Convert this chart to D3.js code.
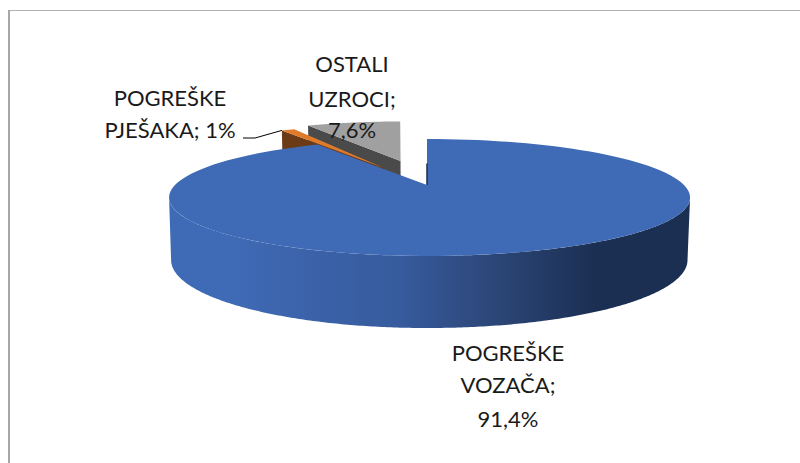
<!DOCTYPE html>
<html>
<head>
<meta charset="utf-8">
<script src="https://cdn.jsdelivr.net/npm/d3@7"></script>
<style>
  html, body { margin: 0; padding: 0; background: #fff; }
  svg { display: block; }
  text { font-family: Lato, "Open Sans", sans-serif; font-size: 22px; fill: #1a1a1a; }
</style>
</head>
<body>
<div id="chart"></div>
<script>
// Podaci
const categories = ["POGREŠKE VOZAČA", "POGREŠKE PJEŠAKA", "OSTALI UZROCI"];
const values = [91.4, 1, 7.6];
const valueLabels = ["91,4%", "1%", "7,6%"];

const width = 800;
const height = 463;

const svg = d3.select("#chart")
  .append("svg")
  .attr("width", width)
  .attr("height", height);

// Okvir
svg.append("path")
  .attr("d", "M9,463V10.5H800")
  .attr("fill", "none")
  .attr("stroke", "#b3b3b3")
  .attr("stroke-width", 1);
svg.append("path")
  .attr("d", "M9,10V463")
  .attr("stroke", "#a6a6a6")
  .attr("stroke-width", 2);

// Perspektiva: gornja i donja ploha pite
const k = 0.2136;
const topFace = { cx: 427, cy: 185, aL: 252, aR: 257, b: 55.8 };
const bottomFace = { cx: 427, cy: 245.5, aL: 250, aR: 254.5, b: 64.9 };

function project(face, u, v) {
  const w = 1 - k * v;
  const a = u < 0 ? face.aL : face.aR;
  return [face.cx + a * u / w, face.cy + face.b * v / w];
}

// Kutevi kriški
const pie = d3.pie().sort(null).value(d => d);
const arcs = pie(values);

// Izvlačenje kriški i boje
const explode = [0, 0.375, 0.49];
const tilt = [0, 0, -0.024];
const radius = [1, 1.06, 1.03];
const topColors = ["#3f6ab5", "#e07b2c", "#a0a0a0"];
const cutColors = ["#1b2f52", "#6b3a17", "#4a4a4a"];

function disk(i, angle, r) {
  const mid = (arcs[i].startAngle + arcs[i].endAngle) / 2;
  const ex = explode[i] * Math.sin(mid);
  const ey = -explode[i] * Math.cos(mid);
  const t = angle + tilt[i];
  return [ex + r * Math.sin(t), ey - r * Math.cos(t)];
}

function slicePoints(face, i) {
  const a = arcs[i];
  const pts = [project(face, ...disk(i, a.startAngle, 0))];
  d3.range(0, 1.0001, 1 / 120).forEach(f => {
    const ang = a.startAngle + (a.endAngle - a.startAngle) * f;
    pts.push(project(face, ...disk(i, ang, radius[i])));
  });
  return pts;
}

const line = d3.line();

// Gradijent vanjskog ruba
const grad = svg.append("defs").append("linearGradient")
  .attr("id", "wallGrad")
  .attr("gradientUnits", "userSpaceOnUse")
  .attr("x1", 169).attr("x2", 690).attr("y1", 0).attr("y2", 0);
[[0, "#3f6ab5"], [0.12, "#3f6ab5"], [0.45, "#365a9c"], [0.58, "#2f4b80"], [0.82, "#1b2f52"], [1, "#1b2f52"]]
  .forEach(s => grad.append("stop").attr("offset", s[0]).attr("stop-color", s[1]));

// Unutarnji rez kriške (vidljiva ploha na početnom ili završnom kutu)
function cutFace(i, angle) {
  const a0 = project(topFace, ...disk(i, angle, 0));
  const a1 = project(topFace, ...disk(i, angle, radius[i]));
  const b1 = project(bottomFace, ...disk(i, angle, radius[i]));
  const b0 = project(bottomFace, ...disk(i, angle, 0));
  return line([a0, a1, b1, b0]) + "Z";
}

// Siva kriška, pa narančasta, pa plava
svg.append("path").attr("d", cutFace(2, arcs[2].endAngle)).attr("fill", "#ababab");
svg.append("path").attr("d", cutFace(2, arcs[2].startAngle)).attr("fill", cutColors[2]);
svg.append("path").attr("d", line(slicePoints(topFace, 2)) + "Z").attr("fill", topColors[2]);

svg.append("path").attr("d", cutFace(1, arcs[1].startAngle)).attr("fill", cutColors[1]);
svg.append("path").attr("d", line(slicePoints(topFace, 1)) + "Z").attr("fill", topColors[1]);

// Plavi rub: prednja polovica kružnice, od krajnje lijeve do krajnje desne točke
const t0 = Math.acos(-k);
const frontAngles = d3.range(t0, 2 * Math.PI - t0 + 0.005, 0.01);
const wallTop = frontAngles.map(t => project(topFace, Math.sin(t), -Math.cos(t)));
const wallBottom = frontAngles.map(t => project(bottomFace, Math.sin(t), -Math.cos(t))).reverse();
svg.append("path")
  .attr("d", line(wallTop.concat(wallBottom)) + "Z")
  .attr("fill", "url(#wallGrad)");

svg.append("path").attr("d", line(slicePoints(topFace, 0)) + "Z").attr("fill", topColors[0]);

// Tamna crta na rezu plave kriške
svg.append("path")
  .attr("d", line([project(topFace, 0, -0.42), project(topFace, 0, 0)]))
  .attr("stroke", cutColors[0])
  .attr("stroke-width", 1.5)
  .attr("fill", "none");

// Linija do oznake
const leaderEnd = project(topFace, ...disk(1, arcs[1].startAngle, radius[1]));
svg.append("path")
  .attr("d", line([[243, 138], [255, 138], leaderEnd]))
  .attr("fill", "none")
  .attr("stroke", "#000")
  .attr("stroke-width", 1);

// Oznake
const labels = [
  { x: 508, lines: [["POGREŠKE", 361], ["VOZAČA;", 393], [valueLabels[0], 427]] },
  { x: 170, lines: [["POGREŠKE", 106], ["PJEŠAKA; " + valueLabels[1], 138]] },
  { x: 352, lines: [["OSTALI", 72], ["UZROCI;", 107], [valueLabels[2], 138]] }
];

labels.forEach(l => {
  l.lines.forEach(t => {
    svg.append("text")
      .attr("x", l.x)
      .attr("y", t[1])
      .attr("text-anchor", "middle")
      .text(t[0]);
  });
});
</script>
</body>
</html>
